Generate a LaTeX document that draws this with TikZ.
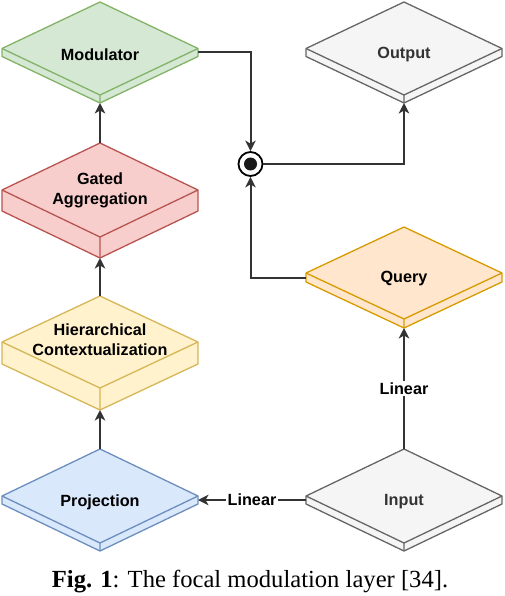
\documentclass[tikz,border=0pt]{standalone}
\usepackage{fontspec}
\setmainfont{Liberation Serif}
\setsansfont{Liberation Sans}
\usetikzlibrary{arrows.meta}
\definecolor{grnF}{HTML}{D5E8D4}\definecolor{grnD}{HTML}{82B366}
\definecolor{redF}{HTML}{F8CECC}\definecolor{redD}{HTML}{B85450}
\definecolor{yelF}{HTML}{FFF2CC}\definecolor{yelD}{HTML}{D6B656}
\definecolor{bluF}{HTML}{DAE8FC}\definecolor{bluD}{HTML}{6C8EBF}
\definecolor{orgF}{HTML}{FFE6CC}\definecolor{orgD}{HTML}{D79B00}
\definecolor{gryF}{HTML}{F5F5F5}\definecolor{gryD}{HTML}{666666}
\definecolor{gryT}{HTML}{333333}
\definecolor{lineC}{HTML}{333333}
\tikzset{
  grnbox/.style={draw=grnD, fill=grnF}, grntxt/.style={text=black},
  redbox/.style={draw=redD, fill=redF}, redtxt/.style={text=black},
  yelbox/.style={draw=yelD, fill=yelF}, yeltxt/.style={text=black},
  blubox/.style={draw=bluD, fill=bluF}, blutxt/.style={text=black},
  orgbox/.style={draw=orgD, fill=orgF}, orgtxt/.style={text=black},
  grybox/.style={draw=gryD, fill=gryF}, grytxt/.style={text=gryT},
  boxline/.style={line width=1.3pt, line join=round},
  lbl/.style={font=\sffamily\bfseries\fontsize{16.2}{20}\selectfont, align=center, inner sep=1pt},
  edgelbl/.style={lbl, fill=white, inner sep=1.5pt},
  conn/.style={draw=lineC, line width=2pt, -{Stealth[length=10.5pt,width=10.5pt,inset=3pt]}},
}
% #1 name, #2 centre x, #3 top y, #4 height, #5 depth, #6 colour key, #7 text y, #8 text
\newcommand{\isoblk}[8]{%
  \pgfmathsetmacro\isoFB{#3+#4-#5}%
  \pgfmathsetmacro\isoMid{#3+(#4-#5)/2}%
  \pgfmathsetmacro\isoMidD{#3+(#4+#5)/2}%
  \pgfmathsetmacro\isoBot{#3+#4}%
  \pgfmathsetmacro\isoCon{#3+#4/2}%
  \pgfmathsetmacro\isoL{#2-98}%
  \pgfmathsetmacro\isoR{#2+98}%
  \coordinate (#1-top) at (#2,#3);
  \coordinate (#1-bot) at (#2,\isoBot);
  \coordinate (#1-w) at (\isoL,\isoCon);
  \coordinate (#1-e) at (\isoR,\isoCon);
  \path[#6box, boxline] (#2,#3) -- (\isoR,\isoMid) -- (\isoR,\isoMidD) -- (#2,\isoBot) -- (\isoL,\isoMidD) -- (\isoL,\isoMid) -- cycle;
  \path[#6box, boxline, fill=none] (\isoL,\isoMid) -- (#2,\isoFB) -- (\isoR,\isoMid) (#2,\isoFB) -- (#2,\isoBot);
  \node[lbl, #6txt] (#1) at (#2,#7) {#8};
}
\begin{document}
\begin{tikzpicture}[x=1pt,y=-1pt]
\useasboundingbox (0,0) rectangle (504,596);
\isoblk{mod}{100}{2}{101}{8}{grn}{54.5}{Modulator}
\isoblk{gate}{100}{143}{115}{21}{red}{190.5}{Gated\\Aggregation}
\isoblk{hier}{100}{296}{114}{22}{yel}{340}{Hierarchical\\Contextualization}
\isoblk{proj}{100}{449}{102}{8}{blu}{502}{Projection}
\isoblk{out}{404}{2}{101}{8}{gry}{55}{Output}
\isoblk{qry}{404}{227}{101}{9}{org}{278.5}{Query}
\isoblk{inp}{404}{449}{102}{8}{gry}{502}{Input}
\node[circle, draw=black, line width=1.8pt, fill=white, minimum size=24pt, inner sep=0pt] (dot) at (250.5,164) {};
\fill[black!90] (dot.center) circle[radius=6.5pt];
\draw[conn] (proj-top) -- (hier-bot);
\draw[conn] (hier-top) -- (gate-bot);
\draw[conn] (gate-top) -- (mod-bot);
\draw[conn] (mod-e) -| (dot.north);
\draw[conn] (qry-w) -| (dot.south);
\draw[conn] (dot.east) -| (out-bot);
\draw[conn] (inp-w) -- node[edgelbl] {Linear} (proj-e);
\draw[conn] (inp-top) -- node[edgelbl] {Linear} (qry-bot);
\node[font=\fontsize{24.6}{28}\selectfont, anchor=base, inner sep=0pt] (cap) at (250,587) {\textbf{Fig. 1}: The focal modulation layer [34].};
\end{tikzpicture}
\end{document}
